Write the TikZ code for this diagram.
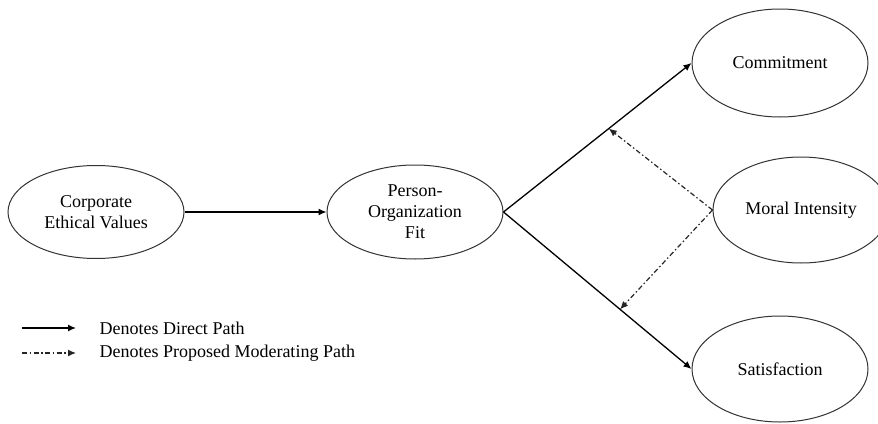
\documentclass[tikz,border=0pt]{standalone}
\usepackage{fontspec}
\setmainfont{Liberation Serif}
\usetikzlibrary{arrows.meta,shapes.geometric,positioning}
\tikzset{
  construct/.style={ellipse, draw=black!80, line width=1pt, fill=white, align=center,
                    minimum width=176pt, inner sep=0pt},
  lbl/.style={font=\fontsize{18}{21}\selectfont, align=center},
  direct/.style={-{Latex[length=8pt,width=7pt]}, draw=black, line width=1.3pt},
  moderate/.style={-{Latex[length=8pt,width=7pt]}, draw=black!85, line width=1.2pt,
                   dash pattern=on 5pt off 2.5pt on 1.5pt off 2.5pt},
}

\begin{document}
\begin{tikzpicture}[x=1pt,y=-1pt, every node/.style={lbl}]
\useasboundingbox (0,0) rectangle (878,423);

\node[construct, minimum height=93pt]  (cev) at (96,212)  {Corporate\\Ethical Values};
\node[construct, minimum height=94pt]  (pof) at (415,212) {Person-\\Organization\\Fit};
\node[construct, minimum height=108pt] (com) at (780,63)  {Commitment};
\node[construct, minimum height=106pt] (mor) at (801,210) {Moral Intensity};
\node[construct, minimum height=106pt] (sat) at (780,369) {Satisfaction};

\draw[direct] (cev) -- (pof);
\draw[direct] (pof.east) -- coordinate[pos=0.56] (up) (com.west);
\draw[direct] (pof.east) -- coordinate[pos=0.62] (dn) (sat.west);

\draw[moderate] (mor.west) -- (up);
\draw[moderate] (mor.west) -- (dn);

% legend
\node[anchor=west] (lgd) at (96,328) {Denotes Direct Path};
\node[anchor=west] (lgm) at (96,353) {Denotes Proposed Moderating Path};
\coordinate (ld) at (22,328);
\coordinate (lm) at (22,353);
\draw[direct] (ld) -- ++(54,0) coordinate (ldx);
\draw[moderate] (lm) -- ++(54,0) coordinate (lmx);
\end{tikzpicture}
\end{document}
